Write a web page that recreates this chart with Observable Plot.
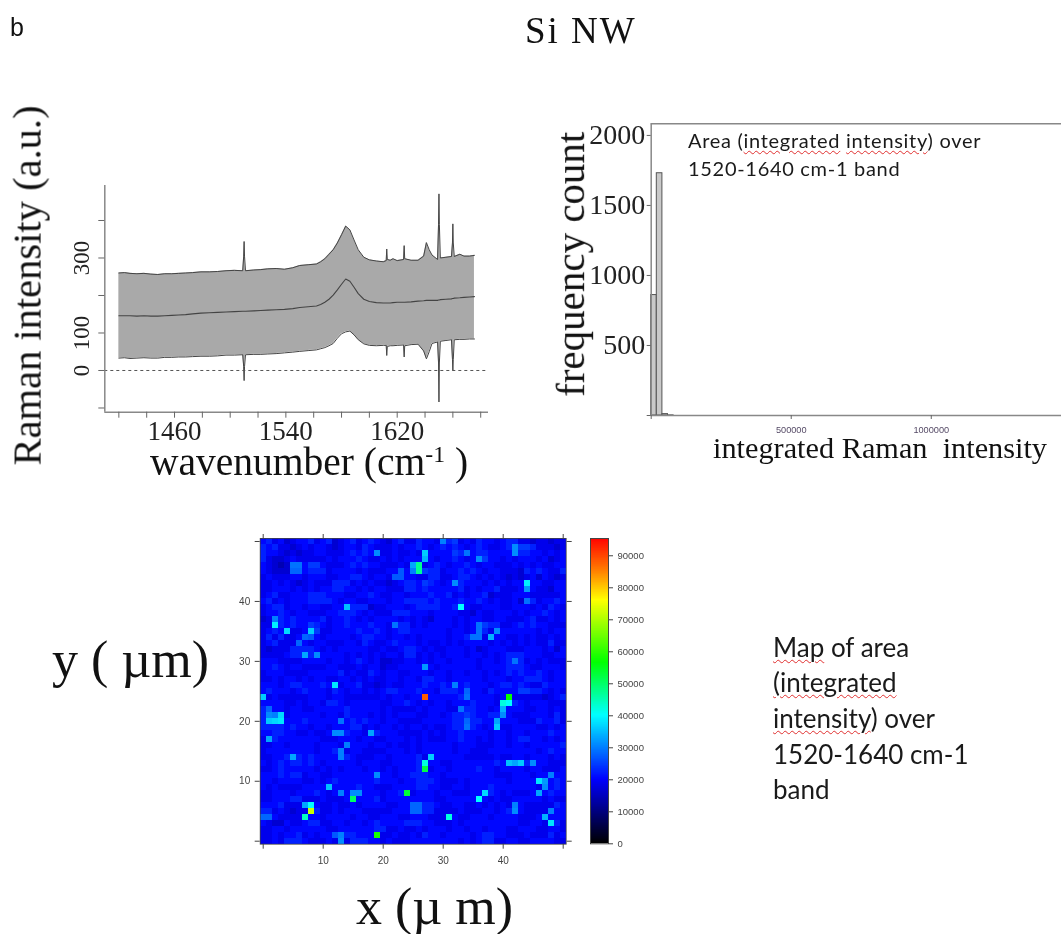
<!DOCTYPE html>
<html><head><meta charset="utf-8">
<script src="https://cdn.jsdelivr.net/npm/d3@7"></script>
<script src="https://cdn.jsdelivr.net/npm/@observablehq/plot@0.6"></script>
<style>
html,body{margin:0;padding:0;background:#fff;overflow:hidden}
#page{position:relative;width:1061px;height:934px;overflow:hidden}
#page svg{position:absolute;filter:blur(0.45px);background:transparent}
.t{position:absolute;white-space:pre;color:#111;line-height:1;filter:blur(0.3px)}
.serif{font-family:"Liberation Serif",serif}
.sans{font-family:Lato,"Open Sans",sans-serif;color:#1a1a1a}
.sq{text-decoration:underline wavy #e03030 1px;text-underline-offset:2px}
</style></head><body><div id="page"></div>
<script>
// Spectrum: wavenumber grid with upper envelope, mean and lower envelope
const wavenumber=[1420,1424,1428,1433,1438, 1443,1448,1453,1458,1463, 1468,1473,1479,1485,1491, 1497,1503,1509,1509.7,1510, 1510.3,1511,1517,1522,1527, 1533,1539,1545,1550,1556, 1562,1565,1568,1571,1574, 1577,1580,1583,1586,1589, 1592,1596,1600,1605,1610, 1612.1,1612.5,1612.9,1615,1617, 1620,1624.6,1625,1625.4,1630, 1635,1639,1641,1643,1645, 1649,1649.7,1650,1650.3,1651, 1655,1659,1659.7,1660,1660.3, 1661,1665,1668,1672,1675.5];
const upperEnvelope=[260,261,259,258,259, 257,256,258,258,259, 260,261,263,263,264, 266,267,266,305,344, 305,266,268,269,271, 272,270,274,280,282, 284,290,298,310,322, 340,362,385,375,348, 322,302,295,292,290, 293,324,296,294,298, 293,296,333,298,294, 294,305,341,322,308, 296,390,471,390,300, 302,304,340,391,340, 304,310,305,305,307];
const meanSpectrum=[146,146,146,145,146, 145,145,146,147,148, 149,151,153,154,155, 156,157,158,158,158, 158,158,159,160,161, 162,163,165,168,170, 172,176,182,190,201, 215,230,244,238,222, 205,190,184,181,180, 180,180,180,180,181, 182,182,182,182,183, 185,186,187,187,187, 187,188,188,188,189, 190,191,192,192,192, 193,194,195,196,197];
const lowerEnvelope=[33,34,32,33,34, 33,33,35,35,36, 36,37,38,38,39, 41,41,42,10,-27, 10,42,43,43,44, 45,47,49,51,53, 55,58,61,66,72, 86,98,103,105,95, 82,71,67,66,67, 67,40,64,66,66, 67,68,36,66,69, 70,52,31,50,72, 76,20,-84,20,78, 80,82,30,0,30, 82,83,83,84,84];
const specXTicks=[1420,1440,1460,1480,1500,1520,1540,1560,1580,1600,1620,1640,1660,1680];
const specXLabels=[1460,1540,1620];
const specYTicks=[-100,0,100,200,300,400];
const specYLabels=[0,100,300];

// Histogram of integrated intensity
const histBinStart=[0,20000,40000,60000];
const histBinEnd=[20000,40000,60000,80000];
const histCount=[860,1730,10,1];
const histYTicks=[0,500,1000,1500,2000];
const histYLabels=[500,1000,1500,2000];
const histXTicks=[0,500000,1000000];
const histXLabels=[500000,1000000];

// Map: background cell levels, rows from y=50 at the top down to y=0
const levelValue={1:14000,2:16500,3:18500,4:20500,5:22500,6:24500,7:27000};
const mapRows=[
"4534234453 4523453454 3245335443 4563435443 4553323323 3",
"5453323434 4323443543 3343445434 5454345433 4546653332 3",
"5443232334 4333454543 3343343444 4465445544 4445544343 4",
"5322343333 3434445433 4343444443 4454345644 3434443423 4",
"4321223466 4333454544 3334342345 4344543443 3343434334 4",
"4322233455 5344443433 3443445655 3445454344 3332545433 5",
"3433344344 4334455434 4334443355 3345543434 3232342432 3",
"3343432343 3355534343 3234554654 3445444343 4344544334 4",
"3344434343 4455443434 4333554544 4445343445 3334443324 4",
"3453344455 5444334454 3344344454 4534344523 3344433333 4",
"4534344455 5543443344 4344555545 4445445434 3342453445 4",
"3455344344 3344455523 3444345555 4454433444 3344434354 3",
"3445434433 3445554343 3355544434 4443324334 4434344543 4",
"2345454444 5344543434 4443434324 4434344334 4333453343 4",
"3345454465 4344544454 4345534344 4434343655 3345454433 3",
"3454333466 3344445445 4345544444 4344345534 4444443434 4",
"3535334654 3444434554 4344343444 4344555344 4334343343 4",
"3453335434 4333443543 3454443433 4343444434 3434343353 3",
"3233355554 3434444433 4334554343 3444342344 4333444342 4",
"3333455454 4444343434 3443553434 3444344343 4555444334 4",
"4443333444 4344345434 2233443434 4344443443 4545343433 3",
"4454344333 3443334344 2334444343 4444443444 4555433444 3",
"3444333344 4445343354 3443344434 4344344343 4545445434 4",
"3343443434 4334434343 3443443554 4344444344 4344555434 4",
"4443455444 5443445332 3433444544 5454544434 5545433544 4",
"4544434544 4354344343 4554445443 5554444354 4446655434 3",
"4343333344 4344333333 4344344444 4445444443 4433333234 5",
"4444334344 3554344444 3344543434 4344454443 4554344433 3",
"5544344334 4444544444 3433334344 4334554434 4444334434 3",
"5655344444 3443544434 3434443344 3455654455 3433344435 3",
"5676444544 4444454544 3443333444 4455655445 4443335445 3",
"5555454434 4344455343 4434344343 3455554344 3344443343 4",
"4455443343 3455544345 4443333434 3445444434 4344344454 4",
"3454444444 3334443443 3444343433 3445443434 4345544343 4",
"3344344443 4443444434 4343343444 4434443334 4344344444 5",
"3444444443 4455344333 3444343444 4434433344 4444443454 4",
"3344545454 4444543334 4344445344 4444333334 3344344434 3",
"4345455454 3444443444 3344445544 3344444445 4444544433 3",
"3345444443 4343444344 3434445434 4344445443 4444344333 4",
"4445455344 3344444444 4434455544 3444444443 3344434444 4",
"4434444334 3454444445 4443445554 3334344444 4344444445 4",
"4343333444 4444445443 3344445544 3344344454 4444443445 4",
"3344434445 4344444444 3445434443 4433344454 3433344454 4",
"3344455333 4333444445 3444444443 3444444434 3344444343 3",
"4445333454 3343343444 4334455554 3344334343 4344333335 4",
"5534323355 3343444333 3344465553 3334333443 4544333334 4",
"5543333444 3444434433 4443344433 3343344434 4443334344 4",
"4322433455 3344344345 4444555443 3343444444 4443344345 3",
"3344344444 4334444445 5334334344 4344344344 4334443344 3",
"3343445343 4444554443 3343343544 3444434554 4333433353 4",
"3343555433 3433355544 3433344444 4443434553 3443344443 3"
];
// Bright cells read individually: [x, y, value]
const mapHotCells=[[27,48,36000],[27,47,34000],[26,46,47000],[26,45,47000],[25,46,33000],[25,45,30000],[19,48,31000],[5,46,29000],[6,46,29000],[5,45,28000],[6,45,28000],[30,50,30000],[22,44,27000],[23,44,27000],[23,45,27000],[14,39,35000],[2,36,39000],[2,37,30000],[4,35,37000],[8,35,36000],[7,34,28000],[8,34,27000],[6,33,28000],[7,31,33000],[9,31,31000],[27,29,32000],[12,26,38000],[0,24,36000],[27,24,88000],[22,36,29000],[34,48,29000],[36,47,31000],[42,49,31000],[42,48,31000],[32,43,31000],[44,43,39000],[44,42,32000],[44,40,29000],[33,39,40000],[35,34,29000],[36,34,29000],[36,36,29000],[36,35,29000],[39,35,31000],[38,34,34000],[42,30,29000],[41,24,57000],[34,25,28000],[34,24,29000],[32,26,30000],[1,21,31000],[2,21,30000],[3,21,37000],[1,20,36000],[2,20,37000],[3,20,38000],[1,22,28000],[1,17,33000],[13,20,29000],[12,18,31000],[13,18,31000],[18,18,33000],[14,16,30000],[13,15,30000],[13,14,30000],[5,14,33000],[27,13,42000],[27,12,52000],[28,14,36000],[19,11,31000],[11,9,35000],[13,8,30000],[15,7,50000],[16,8,31000],[15,8,31000],[24,8,53000],[8,6,40000],[7,6,33000],[8,5,72000],[7,4,44000],[0,4,28000],[1,4,28000],[19,1,58000],[13,1,30000],[13,0,31000],[12,1,27000],[31,4,42000],[25,6,28000],[26,6,28000],[25,5,28000],[26,5,28000],[40,23,42000],[41,23,40000],[40,22,34000],[40,21,31000],[39,20,33000],[39,19,36000],[34,20,28000],[34,19,29000],[33,22,29000],[41,13,35000],[42,13,33000],[43,13,36000],[45,13,31000],[46,10,38000],[47,10,32000],[47,9,31000],[48,11,30000],[46,8,33000],[37,8,37000],[36,7,40000],[42,6,30000],[42,5,31000],[47,4,34000],[48,3,38000],[48,5,30000]];
const mapTicks=[0,10,20,30,40,50];
const mapLabels=[10,20,30,40];
const colorStops=[0,20000,40000,56500,76000,85000,95400];
const colorRange=["#000000","#0000ff","#00ffff","#00ff00","#ffff00","#ff8000","#ff0000"];
const barTicks=[0,10000,20000,30000,40000,50000,60000,70000,80000,90000];

const page=document.getElementById("page");
function place(svg,l,t,blur){svg.style.left=l+"px";svg.style.top=t+"px";if(blur)svg.style.filter="blur("+blur+"px)";page.appendChild(svg);}
function text(html,cls,l,baseline,size,extra){
  const d=document.createElement("div");d.className="t "+cls;d.innerHTML=html;
  d.style.left=l+"px";d.style.top=(baseline-size*0.85)+"px";d.style.fontSize=size+"px";
  if(extra)Object.assign(d.style,extra);page.appendChild(d);return d;
}
const lab=(list)=>(d)=>list.includes(d)?String(d):"";

/* ---------- spectrum ---------- */
const spec=wavenumber.map((w,i)=>({w,u:upperEnvelope[i],m:meanSpectrum[i],l:lowerEnvelope[i]}));
place(Plot.plot({
  width:500,height:400,marginLeft:104.3,marginRight:12,marginTop:85,marginBottom:88.3,
  x:{domain:[1409.9,1685.6]},y:{domain:[-111.2,493.3]},
  style:{fontFamily:"Liberation Serif",color:"#222"},
  marks:[
    Plot.areaY(spec,{x:"w",y1:"l",y2:"u",fill:"#a9a9a9"}),
    Plot.lineY(spec,{x:"w",y:"u",stroke:"#444",strokeWidth:1}),
    Plot.lineY(spec,{x:"w",y:"m",stroke:"#444",strokeWidth:1.1}),
    Plot.lineY(spec,{x:"w",y:"l",stroke:"#444",strokeWidth:1}),
    Plot.ruleY([0],{stroke:"#555",strokeDasharray:"3,3"}),
    Plot.ruleX([1409.9],{stroke:"#888",strokeWidth:1.5}),
    Plot.ruleY([-111.2],{stroke:"#888",strokeWidth:1.5}),
    Plot.axisX({ticks:specXTicks,tickFormat:lab(specXLabels),tickSize:6,tickPadding:3,fontSize:27,label:null,stroke:"#666"}),
    Plot.axisY({ticks:specYTicks,tickFormat:lab(specYLabels),tickSize:6,tickPadding:10,tickRotate:-90,fontSize:23,label:null,stroke:"#666"})
  ]
}),0,100);
text("wavenumber (cm<sup style='font-size:60%;vertical-align:0.55em;line-height:0'>-1</sup> )","serif",150,477,39.5);
text("Raman intensity (a.u.)","serif",42,465,40.5,{transformOrigin:"0 "+(40.5*0.85)+"px",transform:"rotate(-90deg)"});

/* ---------- histogram ---------- */
const hist=histCount.map((c,i)=>({a:histBinStart[i],b:histBinEnd[i],c}));
place(Plot.plot({
  width:471,height:345,marginLeft:60.7,marginRight:0,marginTop:13.3,marginBottom:40,
  x:{domain:[0,1465000]},y:{domain:[0,2083]},
  style:{fontFamily:"Liberation Serif",color:"#222"},
  marks:[
    Plot.rectY(hist,{x1:"a",x2:"b",y:"c",fill:"#c9c9c9",stroke:"#555",strokeWidth:1}),
    Plot.ruleX([0],{stroke:"#888",strokeWidth:1.5}),
    Plot.ruleY([0],{stroke:"#888",strokeWidth:1.5}),
    Plot.ruleY([2083],{stroke:"#888",strokeWidth:1.5}),
    Plot.axisY({ticks:histYTicks,tickFormat:lab(histYLabels),tickSize:4,tickPadding:2,fontSize:28,label:null,stroke:"#666"}),
    Plot.axisX({ticks:histXTicks,tickFormat:lab(histXLabels),tickSize:4,tickPadding:7,fontSize:9.2,fontFamily:"Liberation Sans",label:null,stroke:"#666",fill:"#554a66"})
  ]
}),590,110);
text("frequency count","serif",585,397,41,{transformOrigin:"0 "+(41*0.85)+"px",transform:"rotate(-90deg)"});
text("integrated Raman  intensity","serif",713,459,30.3);
text("Area (<span class='sq'>integrated</span> <span class='sq'>intensity</span>) over","sans",688,147,20,{letterSpacing:"0.7px"});
text("1520-1640 cm-1 band","sans",688,175,20,{letterSpacing:"0.7px"});

/* ---------- map ---------- */
const mapCells=[];
mapRows.forEach((r,i)=>{
  const s=r.replace(/ /g,"");
  for(let x=0;x<=50;x++)mapCells.push({x,y:50-i,v:levelValue[s[x]]||18500});
});
const hotIndex=new Map(mapHotCells.map(d=>[d[0]+"_"+d[1],d[2]]));
mapCells.forEach(d=>{const k=d.x+"_"+d.y;if(hotIndex.has(k))d.v=hotIndex.get(k);});
const colorScale={type:"linear",domain:colorStops,range:colorRange,interpolate:"rgb"};
const axisCommon={ticks:mapTicks,tickSize:5,label:null,stroke:"#444",fontSize:10,fontFamily:"Liberation Sans"};
place(Plot.plot({
  width:360,height:365,marginLeft:39.7,marginRight:14.3,marginTop:18,marginBottom:41.3,
  x:{domain:[-0.5,50.5]},y:{domain:[-0.5,50.5]},color:colorScale,
  style:{fontFamily:"Liberation Sans",color:"#444"},
  marks:[
    Plot.rect(mapCells,{x1:d=>d.x-0.5,x2:d=>d.x+0.5,y1:d=>d.y-0.5,y2:d=>d.y+0.5,fill:"v",shapeRendering:"crispEdges"}),
    Plot.frame({stroke:"#444",strokeWidth:0.8}),
    Plot.axisX({...axisCommon,anchor:"bottom",tickFormat:lab(mapLabels),tickPadding:8}),
    Plot.axisX({...axisCommon,anchor:"top",tickFormat:()=>""}),
    Plot.axisY({...axisCommon,anchor:"left",tickFormat:lab(mapLabels),tickPadding:5}),
    Plot.axisY({...axisCommon,anchor:"right",tickFormat:()=>""})
  ]
}),220,520,0.75);
const barValues=d3.range(0,95400,200);
place(Plot.plot({
  width:90,height:340,marginLeft:10,marginRight:62,marginTop:18,marginBottom:16.7,
  x:{axis:null,domain:[0,1]},y:{domain:[0,95400]},color:colorScale,
  style:{fontFamily:"Liberation Sans",color:"#444"},
  marks:[
    Plot.rect(barValues,{x1:0,x2:1,y1:d=>d,y2:d=>d+220,fill:d=>d,shapeRendering:"crispEdges"}),
    Plot.frame({stroke:"#444",strokeWidth:1}),
    Plot.axisY({ticks:barTicks,anchor:"right",tickSize:4,tickPadding:5,fontSize:9.5,label:null,stroke:"#444",tickFormat:d=>String(d)})
  ]
}),580,520,0.6);
text("y ( µm)","serif",52,678,52);
text("x (µ m)","serif",356,925,52);

/* ---------- labels ---------- */
text("b","",10,36,25,{fontFamily:"Liberation Sans"});
text("Si NW","serif",525,43,37,{letterSpacing:"2px"});
const mapNote=[["<span class='sq'>Map</span> of area",656],["<span class='sq'>(integrated</span>",691],["<span class='sq'>intensity</span>) over",727],["1520-1640 cm-1",763],["band",798]];
mapNote.forEach(([s,b])=>text(s,"sans",773,b,26));
</script></body></html>
